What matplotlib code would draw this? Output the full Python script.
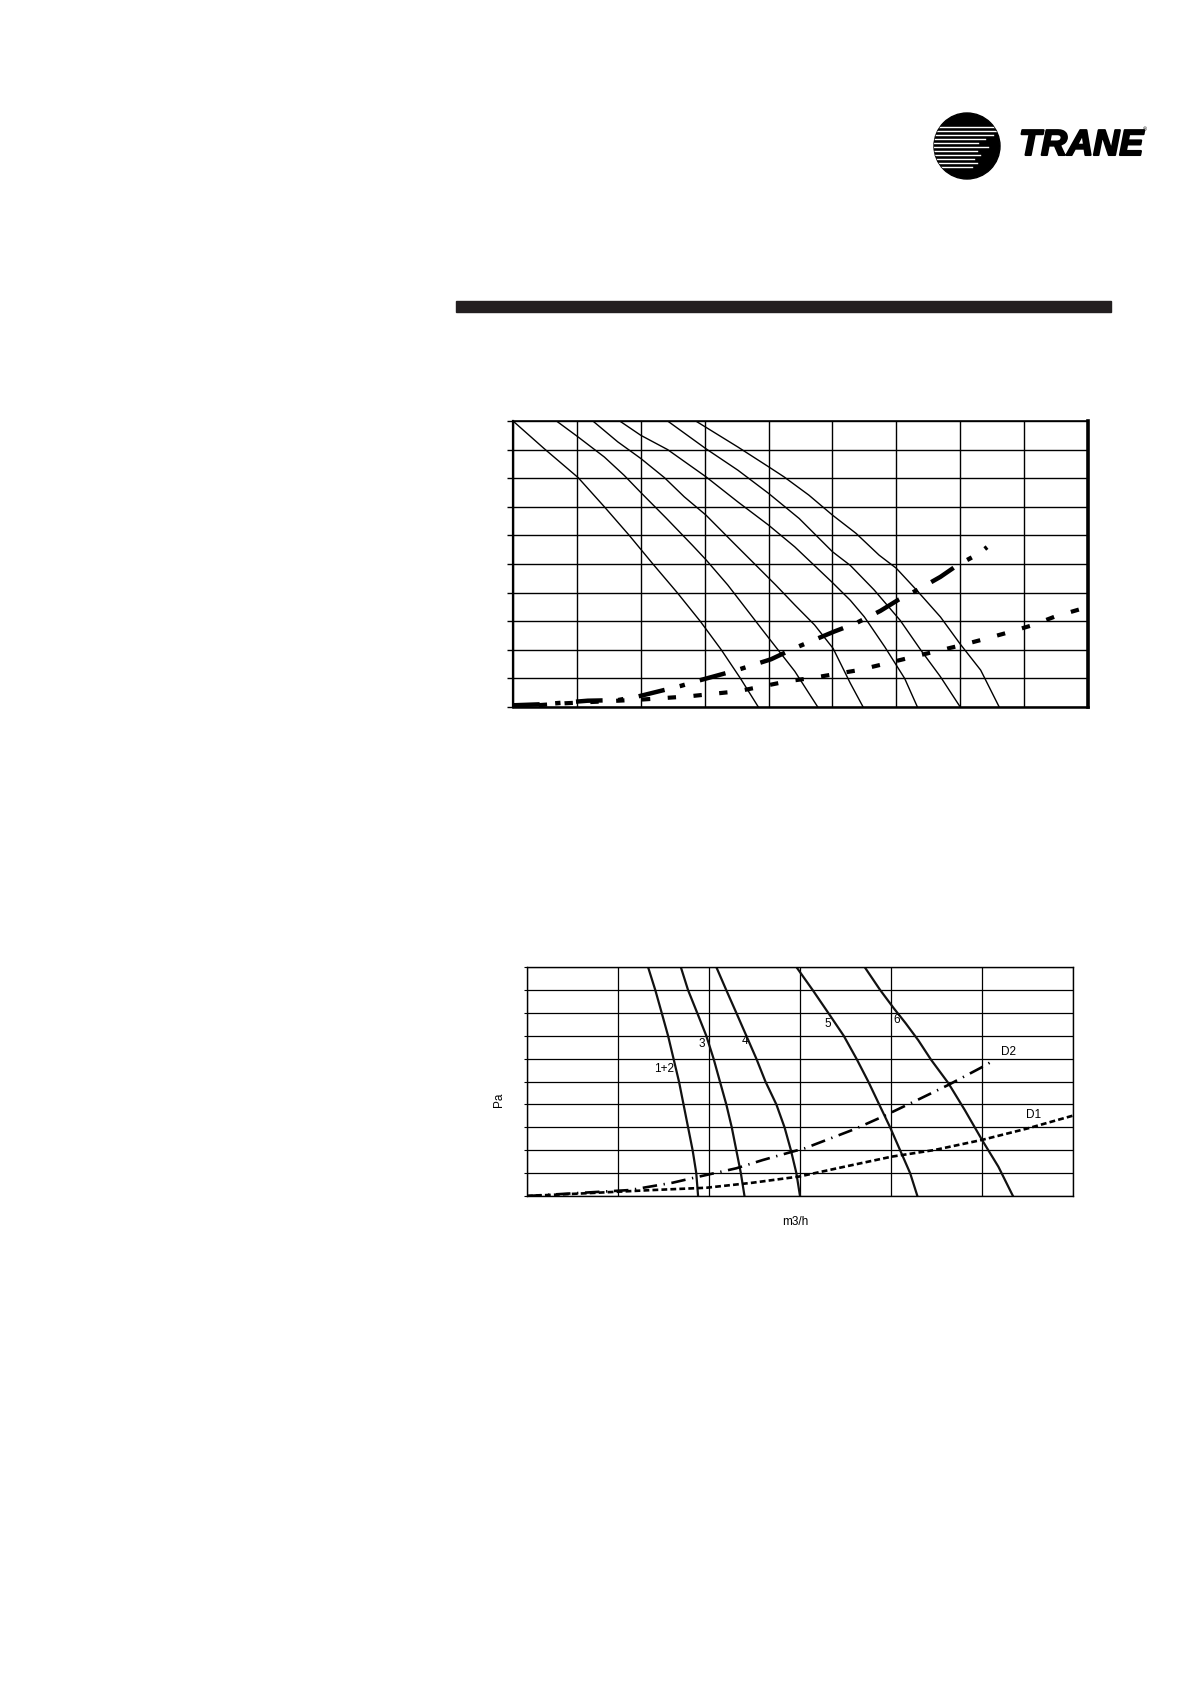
import matplotlib.pyplot as plt
import matplotlib.patheffects as pe
from matplotlib.patches import Circle, Rectangle

plt.rcParams['font.family'] = ['Liberation Sans', 'DejaVu Sans']

# ---- upper chart (grid units, 9 x 10 cells, no tick labels) ----
top_fan_x = [
    [0, 0.49, 1.02, 1.43, 1.82, 2.19, 2.57, 2.93, 3.26, 3.56, 3.84],
    [0.68, 1.02, 1.43, 1.74, 2.0, 2.4, 2.81, 3.02, 3.36, 3.92, 4.41, 4.77],
    [1.25, 1.64, 2.0, 2.37, 2.68, 3.02, 3.46, 4.11, 4.41, 4.72, 5.01, 5.28, 5.48],
    [1.67, 2.0, 2.42, 3.02, 3.52, 4.0, 4.41, 5.0, 5.28, 5.5, 5.82, 6.13, 6.33],
    [2.42, 3.02, 3.52, 4.0, 4.48, 5.0, 5.28, 5.65, 6.06, 6.38, 6.69, 7.0],
    [2.86, 3.52, 4.0, 4.24, 4.63, 5.0, 5.37, 5.73, 6.0, 6.32, 6.69, 7.0, 7.32, 7.61],
]
top_fan_y = [
    [10, 9.03, 8.02, 7.0, 6.0, 5.0, 4.0, 3.0, 2.0, 1.0, 0],
    [10, 9.44, 8.74, 8.1, 7.5, 6.6, 5.65, 5.15, 4.27, 2.65, 1.25, 0],
    [10, 9.27, 8.69, 8.02, 7.35, 6.71, 5.72, 4.27, 3.57, 2.87, 2.05, 0.83, 0],
    [10, 9.5, 9.0, 8.05, 7.17, 6.36, 5.6, 4.35, 3.73, 3.15, 2.1, 1.0, 0],
    [10, 9.03, 8.28, 7.47, 6.59, 5.43, 4.95, 4.1, 3.03, 2.0, 1.06, 0],
    [10, 9.09, 8.4, 8.05, 7.41, 6.71, 6.07, 5.31, 4.85, 4.08, 3.15, 2.2, 1.29, 0],
]
top_dash_x = [0, 0.5, 1.17, 1.64, 1.96, 2.63, 2.95, 3.52, 4.04, 4.41, 5.03, 5.36, 5.75, 6.04, 6.32, 6.69, 6.95, 7.29, 7.42]
top_dash_y = [0.06, 0.1, 0.22, 0.24, 0.37, 0.74, 0.95, 1.30, 1.67, 2.06, 2.64, 2.92, 3.36, 3.76, 4.08, 4.55, 4.95, 5.36, 5.59]
top_dot_x = [0, 0.81, 2.01, 2.74, 3.52, 4.30, 4.72, 5.41, 5.8, 6.22, 6.59, 6.98, 7.37, 7.74, 8.13, 8.48, 9.0]
top_dot_y = [0, 0.13, 0.26, 0.37, 0.55, 0.90, 1.03, 1.29, 1.5, 1.73, 1.93, 2.14, 2.37, 2.6, 2.86, 3.16, 3.5]

# ---- lower chart (grid units, 6 x 10 cells) ----
fan_labels = ['1+2', '3', '4', '5', '6']
fan_x = [
    [1.33, 1.41, 1.48, 1.55, 1.61, 1.67, 1.72, 1.77, 1.82, 1.86, 1.88],
    [1.69, 1.77, 1.87, 1.97, 2.05, 2.12, 2.19, 2.25, 2.30, 2.35, 2.39],
    [2.08, 2.19, 2.30, 2.41, 2.52, 2.62, 2.74, 2.83, 2.90, 2.96, 3.0],
    [2.96, 3.14, 3.31, 3.48, 3.62, 3.75, 3.87, 3.99, 4.10, 4.21, 4.29],
    [3.71, 3.88, 4.03, 4.16, 4.30, 4.44, 4.63, 4.81, 5.0, 5.18, 5.34],
]
fan_y = [
    [10, 8.99, 8.0, 7.0, 6.0, 5.0, 4.0, 3.0, 2.0, 1.0, 0],
    [10, 8.99, 8.0, 7.0, 6.0, 5.0, 4.0, 3.0, 2.0, 1.0, 0],
    [10, 8.99, 8.0, 7.0, 6.0, 5.0, 4.0, 3.0, 2.0, 1.0, 0],
    [10, 8.99, 8.0, 7.0, 6.0, 5.0, 4.0, 3.0, 2.0, 1.0, 0],
    [10, 9.0, 8.2, 7.55, 6.8, 5.95, 4.93, 3.76, 2.45, 1.28, 0],
]
label_x = [1.51, 1.92, 2.40, 3.30, 4.06]
label_y = [5.55, 6.64, 6.78, 7.52, 7.67]

d2_x = [0, 0.65, 1.13, 1.60, 1.86, 2.30, 2.59, 2.92, 3.05, 3.60, 3.91, 4.33, 4.63, 5.03, 5.14]
d2_y = [0, 0.15, 0.26, 0.58, 0.82, 1.21, 1.57, 1.94, 2.08, 2.92, 3.47, 4.27, 4.85, 5.69, 5.95]
d1_x = [0, 0.65, 1.38, 1.97, 2.48, 2.99, 3.49, 4.01, 4.48, 5.0, 5.51, 6.0]
d1_y = [0, 0.12, 0.26, 0.36, 0.58, 0.85, 1.28, 1.72, 2.01, 2.45, 2.96, 3.51]

W, H = 1191, 1684
fig = plt.figure(figsize=(W / 100, H / 100), dpi=100)


def box(l, t, r, b):
    return [l / W, 1 - b / H, (r - l) / W, (b - t) / H]


# page decoration: logo and header bar, in pixel coords
pg = fig.add_axes([0, 0, 1, 1])
pg.set_xlim(0, W)
pg.set_ylim(H, 0)
pg.axis('off')
circ = Circle((967, 146), 33, color='black')
pg.add_patch(circ)
stripes = [(127, 1002), (131, 1002), (135, 993), (139, 985), (143, 978),
           (147, 988), (151, 977), (155, 980), (159, 974), (163, 977), (167, 972)]
for sy, sx in stripes:
    ln, = pg.plot([930, sx], [sy, sy], color='white', lw=1.0)
    ln.set_clip_path(circ)
pg.text(1019, 155, 'TRANE', fontsize=26, fontweight='bold', fontstyle='italic',
        ha='left', va='baseline', color='black',
        path_effects=[pe.withStroke(linewidth=1.5, foreground='black')])
pg.text(1143, 130, '®', fontsize=4, ha='left', va='center')
pg.add_patch(Rectangle((456, 301), 655, 11, color='#231f20'))

# upper chart
ax1 = fig.add_axes(box(513, 421, 1088, 707))
for xs, ys in zip(top_fan_x, top_fan_y):
    ax1.plot(xs, ys, color='black', lw=1.0)
ax1.plot(top_dash_x, top_dash_y, color='black', lw=3.2, dashes=(6.0, 3.5, 1.2, 3.5))
ax1.plot(top_dot_x, top_dot_y, color='black', lw=3.0, dashes=(2.0, 4.2))
ax1.set_xlim(0, 9)
ax1.set_ylim(0, 10)
ax1.set_xticks(range(10))
ax1.set_yticks(range(11))
ax1.set_xticklabels([])
ax1.set_yticklabels([])
ax1.grid(color='black', lw=1.0)
ax1.tick_params(axis='x', length=0)
ax1.tick_params(axis='y', length=4, width=1.0, direction='out')
ax1.spines['left'].set_linewidth(1.6)
ax1.spines['bottom'].set_linewidth(1.8)
ax1.spines['top'].set_linewidth(1.2)
ax1.spines['right'].set_linewidth(2.6)

# lower chart
ax2 = fig.add_axes(box(527, 967, 1073, 1196))
for xs, ys in zip(fan_x, fan_y):
    ax2.plot(xs, ys, color='#111111', lw=1.6)
for lab, lx, ly in zip(fan_labels, label_x, label_y):
    ax2.text(lx, ly, lab, fontsize=8.5, ha='center', va='center')
ax2.plot(d2_x, d2_y, color='black', lw=1.9, dashes=(5.5, 2.5, 0.5, 2.5))
ax2.plot(d1_x, d1_y, color='black', lw=1.9, dashes=(2.2, 1.2))
ax2.text(5.29, 6.27, 'D2', fontsize=8.5, ha='center', va='center')
ax2.text(5.57, 3.54, 'D1', fontsize=8.5, ha='center', va='center')
ax2.set_xlim(0, 6)
ax2.set_ylim(0, 10)
ax2.set_xticks(range(7))
ax2.set_yticks(range(11))
ax2.set_xticklabels([])
ax2.set_yticklabels([])
ax2.grid(color='black', lw=0.9)
ax2.tick_params(axis='x', length=0)
ax2.tick_params(axis='y', length=2.5, width=0.8, direction='out')
for sp in ax2.spines.values():
    sp.set_linewidth(1.0)
fig.text(499 / W, 1 - 1100 / H, 'Pa', fontsize=8.5, rotation=90, ha='center', va='center')
fig.text(795 / W, 1 - 1222 / H, 'm3/h', fontsize=8.5, ha='center', va='center')

fig.savefig('out.png', dpi=100, facecolor='white')
